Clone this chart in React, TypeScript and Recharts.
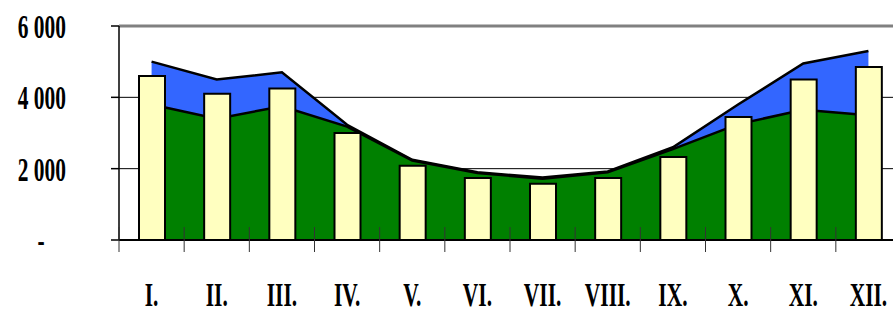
import React from "react"
import {
  Area,
  Bar,
  CartesianGrid,
  ComposedChart,
  ReferenceLine,
  XAxis,
  YAxis,
} from "recharts"

// months (roman numerals) and values
const months = ["I.", "II.", "III.", "IV.", "V.", "VI.", "VII.", "VIII.", "IX.", "X.", "XI.", "XII."]
const blueSeries = [5000, 4500, 4700, 3230, 2250, 1900, 1750, 1920, 2600, 3800, 4950, 5300]
const greenSeries = [3800, 3400, 3750, 3180, 2230, 1880, 1720, 1900, 2550, 3250, 3650, 3500]
const barSeries = [4600, 4100, 4250, 3000, 2080, 1740, 1580, 1740, 2330, 3450, 4500, 4850]
const yTicks = [0, 2000, 4000, 6000]
const yTickLabels: Record<number, string> = { 0: "-", 2000: "2 000", 4000: "4 000", 6000: "6 000" }

const data = months.map((m, i) => ({
  month: m,
  blue: blueSeries[i],
  green: greenSeries[i],
  bar: barSeries[i],
}))

const CHART_W = 915
const CHART_H = 309
const MARGIN = { top: 26, right: 14, bottom: 0, left: 0 }
const Y_AXIS_W = 119
const BAND = (CHART_W - MARGIN.left - MARGIN.right - Y_AXIS_W) / months.length
const FONT = "'Liberation Serif', 'Times New Roman', serif"
const SQUEEZE = 0.63

const XTick = (props: any) => {
  const { x, y, payload } = props
  return (
    <g>
      <line x1={x - BAND / 2} x2={x - BAND / 2} y1={y - 13} y2={y + 12} stroke="#333" strokeWidth={1} />
      <g transform={`translate(${x},${y + 66})`}>
        <text
          transform={`scale(${SQUEEZE},1)`}
          textAnchor="middle"
          fontFamily={FONT}
          fontWeight="bold"
          fontSize={34}
          fill="#000"
        >
          {payload.value}
        </text>
      </g>
    </g>
  )
}

const YTick = (props: any) => {
  const { x, y, payload } = props
  const isZero = payload.value === 0
  return (
    <g transform={`translate(${isZero ? x - 25 : x},${y + 12})`}>
      <text
        transform={`scale(${SQUEEZE},1)`}
        textAnchor={isZero ? "middle" : "end"}
        fontFamily={FONT}
        fontWeight="bold"
        fontSize={34}
        fill="#000"
      >
        {yTickLabels[payload.value]}
      </text>
    </g>
  )
}

export default function App() {
  return (
    <div
      style={{
        position: "fixed",
        left: 0,
        top: 0,
        width: 893,
        height: 309,
        overflow: "hidden",
        background: "#fff",
      }}
    >
      <ComposedChart width={CHART_W} height={CHART_H} data={data} margin={MARGIN}>
        <CartesianGrid vertical={false} stroke="#000" strokeWidth={1} horizontalValues={[2000, 4000]} />
        <ReferenceLine y={6000} stroke="#808080" strokeWidth={3} />
        <XAxis
          dataKey="month"
          height={69}
          tickSize={0}
          tickMargin={0}
          tickLine={false}
          axisLine={{ stroke: "#000", strokeWidth: 2 }}
          tick={<XTick />}
          interval={0}
        />
        <YAxis
          width={Y_AXIS_W}
          domain={[0, 6000]}
          ticks={yTicks}
          tickSize={8}
          tickMargin={45}
          tickLine={{ stroke: "#000", strokeWidth: 1.5 }}
          axisLine={{ stroke: "#000", strokeWidth: 1.5 }}
          tick={<YTick />}
          interval={0}
        />
        <Area
          type="linear"
          dataKey="blue"
          stroke="#000"
          strokeWidth={2.5}
          fill="#3366FF"
          fillOpacity={1}
          isAnimationActive={false}
          dot={false}
          activeDot={false}
        />
        <Area
          type="linear"
          dataKey="green"
          stroke="#000"
          strokeWidth={2.5}
          fill="#008000"
          fillOpacity={1}
          isAnimationActive={false}
          dot={false}
          activeDot={false}
        />
        <Bar
          dataKey="bar"
          barSize={26}
          fill="#FFFFC0"
          stroke="#000"
          strokeWidth={2}
          isAnimationActive={false}
        />
      </ComposedChart>
    </div>
  )
}
